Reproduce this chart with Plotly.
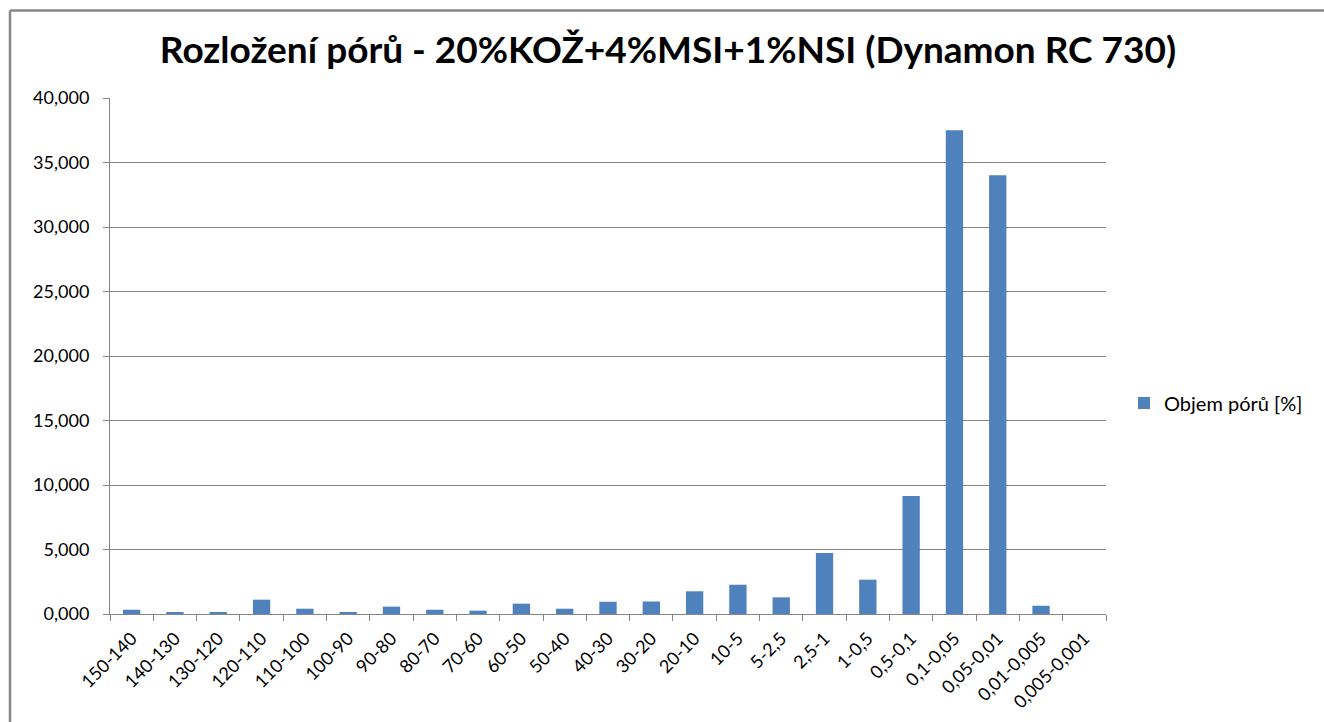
import plotly.graph_objects as go

# Pore size classes (µm) and pore volume share [%]
categories = [
    "150-140", "140-130", "130-120", "120-110", "110-100", "100-90", "90-80",
    "80-70", "70-60", "60-50", "50-40", "40-30", "30-20", "20-10", "10-5",
    "5-2,5", "2,5-1", "1-0,5", "0,5-0,1", "0,1-0,05", "0,05-0,01",
    "0,01-0,005", "0,005-0,001",
]
pore_volume = [
    0.33, 0.13, 0.13, 1.11, 0.41, 0.10, 0.57,
    0.33, 0.26, 0.80, 0.41, 0.95, 0.97, 1.76, 2.27,
    1.29, 4.73, 2.66, 9.15, 37.50, 34.02,
    0.64, 0.0,
]
y_ticks = [0, 5, 10, 15, 20, 25, 30, 35, 40]
y_tick_text = [f"{v},000" for v in y_ticks]

BAR = "#4F81BD"
GRID = "#868686"
FONT = "Lato, Open Sans, sans-serif"

fig = go.Figure(
    go.Bar(
        x=categories,
        y=pore_volume,
        name="Objem pórů [%]",
        marker=dict(color=BAR, line=dict(width=0)),
        showlegend=True,
    )
)

# plot area in pixels
L, R, T, B = 110, 1106, 98, 614
W, H = 1324, 722


def px_x(p):
    return (p - L) / (R - L)


def px_y(p):
    return (B - p) / (B - T)


fig.update_layout(
    width=W,
    height=H,
    margin=dict(l=L, r=W - R, t=T, b=H - B, pad=0, autoexpand=False),
    paper_bgcolor="white",
    plot_bgcolor="white",
    bargap=0.6,
    font=dict(family=FONT, color="#000000", size=18),
    title=dict(
        text="<b>Rozložení pórů - 20%KOŽ+4%MSI+1%NSI (Dynamon RC 730)</b>",
        xref="container", x=668 / W, xanchor="center",
        yref="container", y=1 - 50 / H, yanchor="middle",
        font=dict(family=FONT, size=37, color="#000000"),
    ),
    legend=dict(
        x=px_x(1124), xanchor="left",
        y=px_y(403), yanchor="middle",
        font=dict(family=FONT, size=20),
        bgcolor="rgba(0,0,0,0)",
        itemwidth=30,
    ),
    xaxis=dict(
        type="category",
        automargin=False,
        tickangle=-45,
        tickson="boundaries",
        ticks="outside",
        ticklen=6,
        tickcolor=GRID,
        ticklabelstandoff=6,
        showline=True,
        linecolor=GRID,
        linewidth=1,
        showgrid=False,
        tickfont=dict(family=FONT, size=18),
    ),
    yaxis=dict(
        range=[0, 40],
        automargin=False,
        tickvals=y_ticks,
        ticktext=y_tick_text,
        ticks="outside",
        ticklen=6,
        tickcolor=GRID,
        ticklabelstandoff=10,
        showline=True,
        linecolor=GRID,
        linewidth=1,
        showgrid=True,
        gridcolor=GRID,
        gridwidth=1,
        zeroline=False,
        tickfont=dict(family=FONT, size=18),
    ),
    shapes=[
        # chart frame (left and top edges)
        dict(type="line", xref="paper", yref="paper",
             x0=px_x(10), x1=px_x(10), y0=px_y(H + 5), y1=px_y(10.5),
             line=dict(color="#878787", width=2.5)),
        dict(type="line", xref="paper", yref="paper",
             x0=px_x(10), x1=px_x(W + 5), y0=px_y(10.5), y1=px_y(10.5),
             line=dict(color="#878787", width=2.5)),
    ],
)

fig.write_html("out.html")
